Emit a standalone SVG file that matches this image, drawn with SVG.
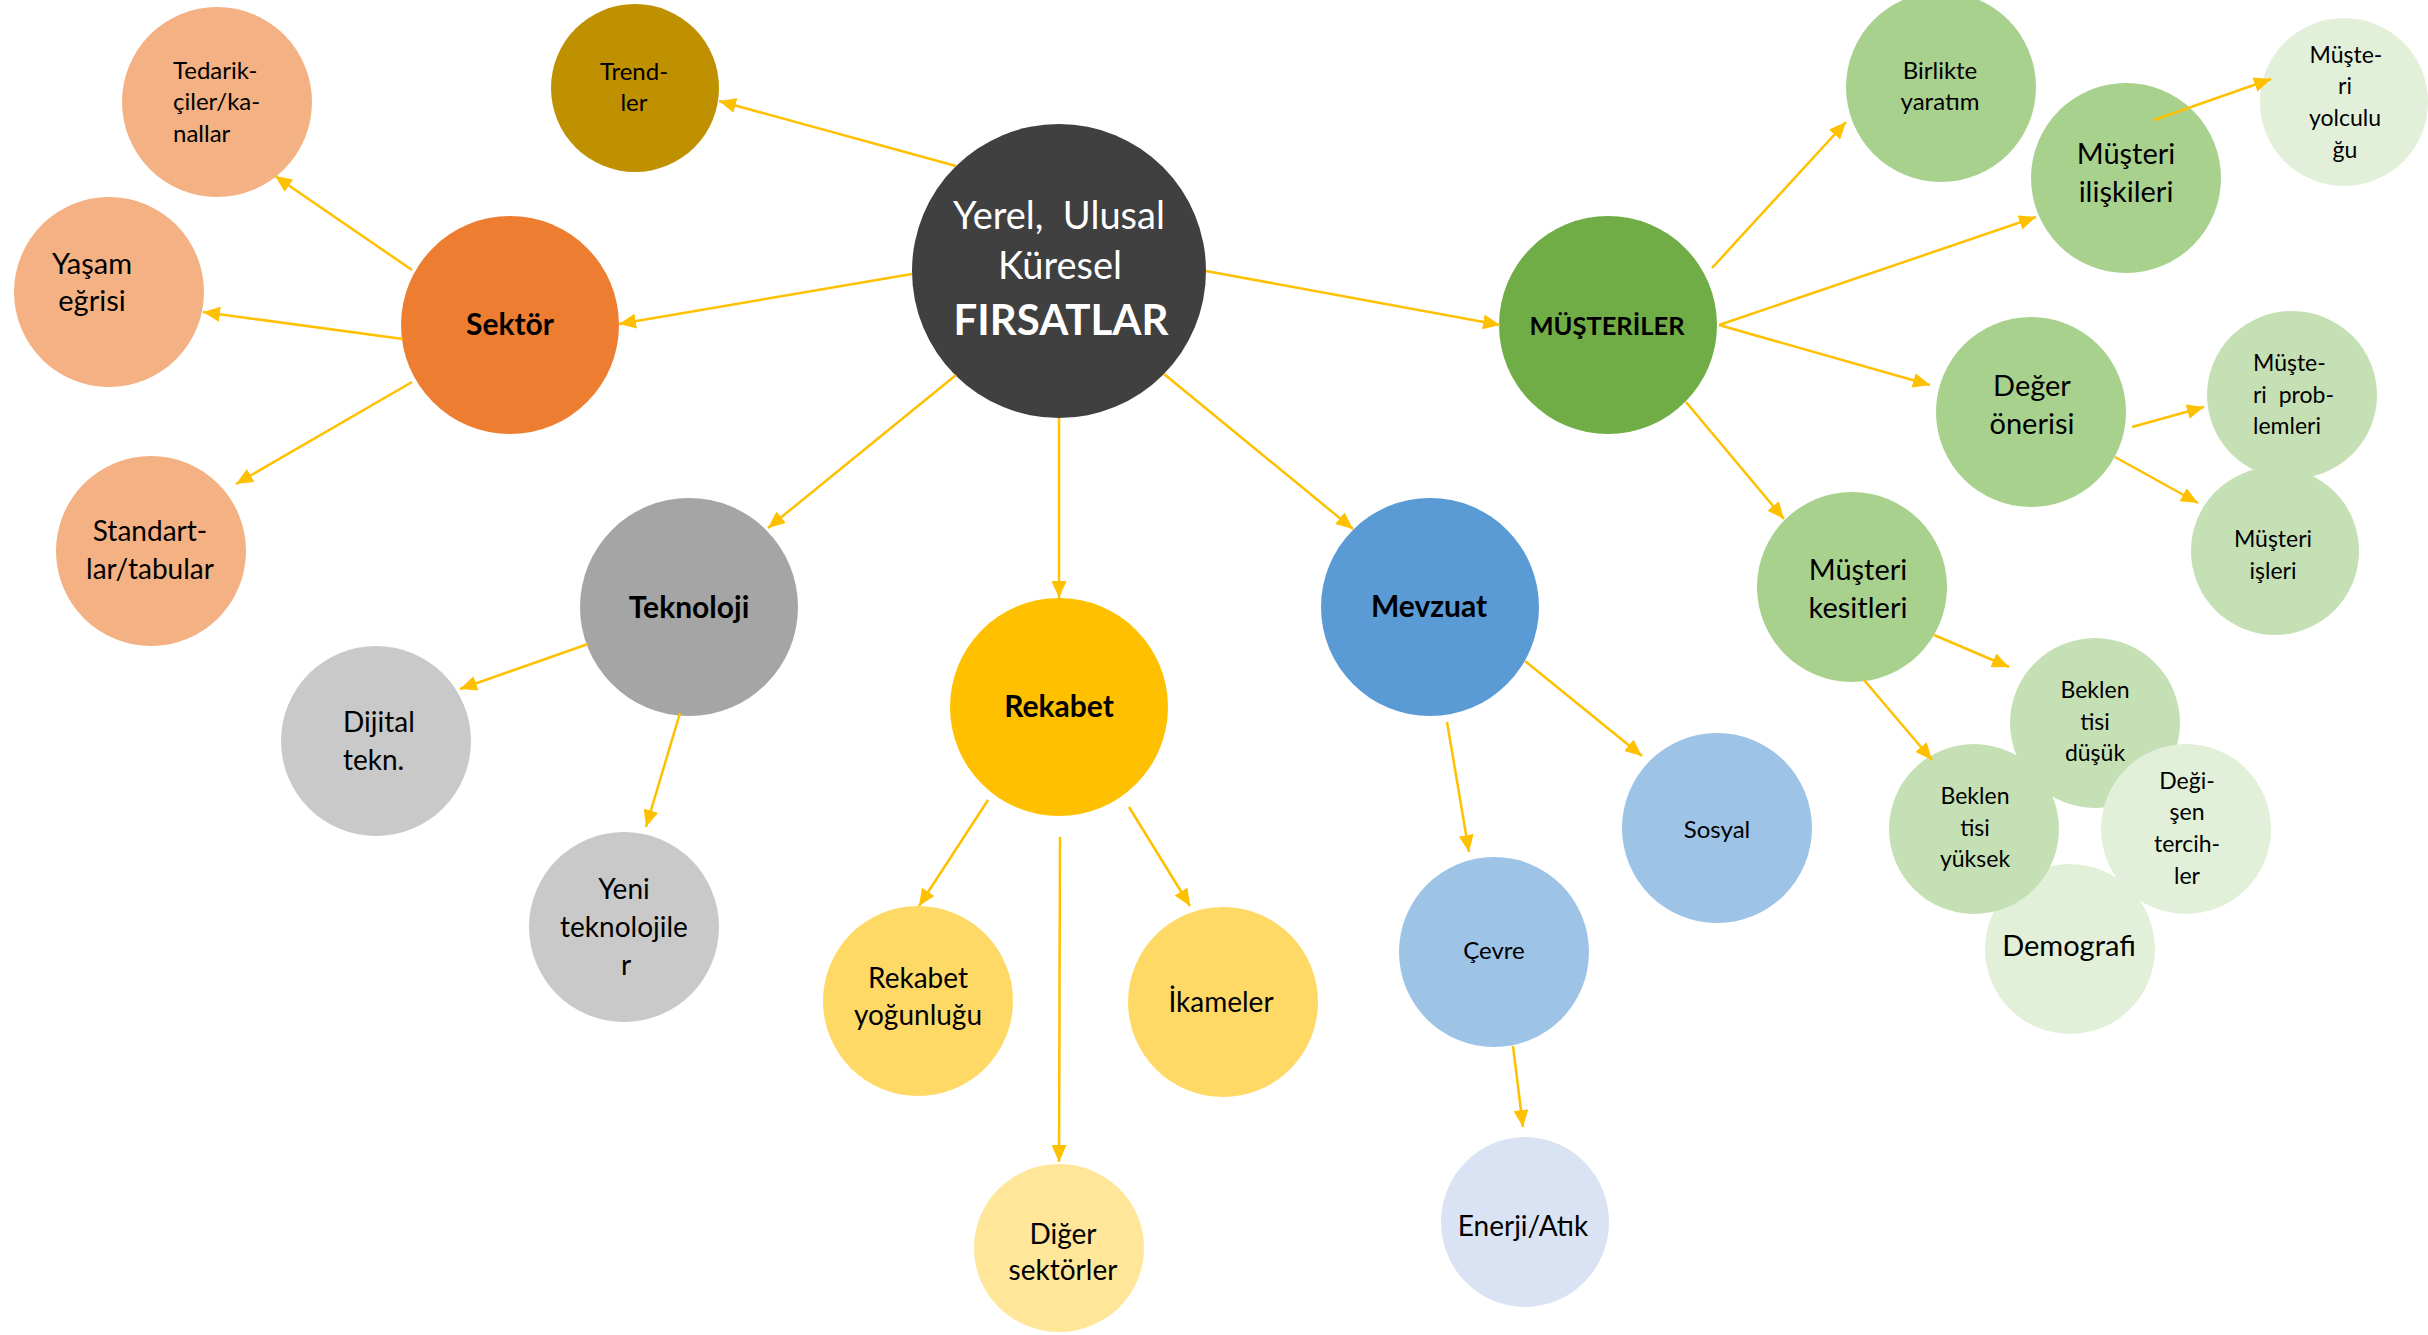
<svg xmlns="http://www.w3.org/2000/svg" width="2428" height="1335" viewBox="0 0 2428 1335">
<defs>
<marker id="ah" markerUnits="userSpaceOnUse" markerWidth="17" markerHeight="15" refX="17" refY="7.5" orient="auto">
<path d="M0,0 L17,7.5 L0,15 z" fill="#FFC000"/>
</marker>
</defs>
<style>
text{font-family:Lato,"Open Sans","Liberation Sans",sans-serif;fill:#000;}
.c{text-anchor:middle;}
.s{text-anchor:start;}
.f23{font-size:23px;}
.f24{font-size:24px;}
.f28{font-size:28px;}
.f29{font-size:29px;}
.b{font-weight:bold;font-size:30px;}
.w{fill:#fff;}
.ln{stroke:#FFC000;stroke-width:2.5;fill:none;marker-end:url(#ah);}
</style>
<rect width="2428" height="1335" fill="#fff"/>
<g id="nodes">
<g id="n-center"><ellipse cx="1059" cy="271" rx="147" ry="147" fill="#404040"/>
<text class="c w" x="1059" y="229" font-size="38" xml:space="preserve">Yerel,  Ulusal</text>
<text class="c w" x="1060" y="279" font-size="38">Küresel</text>
<text class="c w" x="1061" y="335" font-size="42" font-weight="bold">FIRSATLAR</text></g>
<g id="n-trendler"><circle cx="635" cy="88" r="84" fill="#BF9000"/>
<text class="c f24" x="634" y="80">Trend-</text><text class="c f24" x="634" y="111">ler</text></g>
<g id="n-tedarik"><circle cx="217" cy="102" r="95" fill="#F4B183"/>
<text class="s f24" x="173" y="79">Tedarik-</text><text class="s f24" x="173" y="110">çiler/ka-</text><text class="s f24" x="173" y="142">nallar</text></g>
<g id="n-yasam"><circle cx="109" cy="292" r="95" fill="#F4B183"/>
<text class="c f29" x="92" y="274">Yaşam</text><text class="c f29" x="92" y="311">eğrisi</text></g>
<g id="n-standart"><circle cx="151" cy="551" r="95" fill="#F4B183"/>
<text class="c f28" x="150" y="541">Standart-</text><text class="c f28" x="150" y="579">lar/tabular</text></g>
<g id="n-sektor"><circle cx="510" cy="325" r="109" fill="#ED7D31"/>
<text class="c b" x="510" y="335">Sektör</text></g>
<g id="n-teknoloji"><circle cx="689" cy="607" r="109" fill="#A5A5A5"/>
<text class="c b" x="689" y="618">Teknoloji</text></g>
<g id="n-dijital"><circle cx="376" cy="741" r="95" fill="#C9C9C9"/>
<text class="s f28" x="343" y="732">Dijital</text><text class="s f28" x="343" y="770">tekn.</text></g>
<g id="n-yeni"><circle cx="624" cy="927" r="95" fill="#C9C9C9"/>
<text class="c f28" x="624" y="899">Yeni</text><text class="c f28" x="624" y="937">teknolojile</text><text class="c f28" x="626" y="975">r</text></g>
<g id="n-rekabet"><circle cx="1059" cy="707" r="109" fill="#FFC000"/>
<text class="c b" x="1059" y="717">Rekabet</text></g>
<g id="n-yogunluk"><circle cx="918" cy="1001" r="95" fill="#FFD966"/>
<text class="c f28" x="918" y="988">Rekabet</text><text class="c f28" x="918" y="1025">yoğunluğu</text></g>
<g id="n-diger"><ellipse cx="1059" cy="1248" rx="85" ry="84" fill="#FFE699"/>
<text class="c f28" x="1063" y="1244">Diğer</text><text class="c f28" x="1063" y="1280">sektörler</text></g>
<g id="n-ikameler"><circle cx="1223" cy="1002" r="95" fill="#FFD966"/>
<text class="c f28" x="1221" y="1012">İkameler</text></g>
<g id="n-mevzuat"><circle cx="1430" cy="607" r="109" fill="#5B9BD5"/>
<text class="c b" x="1429" y="617">Mevzuat</text></g>
<g id="n-sosyal"><circle cx="1717" cy="828" r="95" fill="#9DC3E6"/>
<text class="c f24" x="1717" y="838">Sosyal</text></g>
<g id="n-cevre"><circle cx="1494" cy="952" r="95" fill="#9DC3E6"/>
<text class="c f24" x="1494" y="959">Çevre</text></g>
<g id="n-enerji"><ellipse cx="1525" cy="1222" rx="84" ry="85" fill="#DAE3F3"/>
<text class="c f28" x="1523" y="1236">Enerji/Atık</text></g>
<g id="n-musteriler"><circle cx="1608" cy="325" r="109" fill="#70AD47"/>
<text class="c" x="1607" y="335" font-size="25.5" font-weight="bold">MÜŞTERİLER</text></g>
<g id="n-birlikte"><circle cx="1941" cy="87" r="95" fill="#A9D18E"/>
<text class="c f24" x="1940" y="79">Birlikte</text><text class="c f24" x="1940" y="110">yaratım</text></g>
<g id="n-iliskileri"><circle cx="2126" cy="178" r="95" fill="#A9D18E"/>
<text class="c f29" x="2126" y="164">Müşteri</text><text class="c f29" x="2126" y="202">ilişkileri</text></g>
<g id="n-yolculugu"><ellipse cx="2344" cy="102" rx="84" ry="84" fill="#E2F0D9"/>
<text class="c f23" x="2346" y="63">Müşte-</text><text class="c f23" x="2345" y="94">ri</text><text class="c f23" x="2345" y="126">yolculu</text><text class="c f23" x="2345" y="158">ğu</text></g>
<g id="n-deger"><circle cx="2031" cy="412" r="95" fill="#A9D18E"/>
<text class="c f29" x="2032" y="396">Değer</text><text class="c f29" x="2032" y="434">önerisi</text></g>
<g id="n-problemleri"><ellipse cx="2292" cy="395" rx="85" ry="84" fill="#C5E0B4"/>
<text class="s f23" x="2253" y="371">Müşte-</text><text class="s f23" x="2253" y="403" xml:space="preserve">ri  prob-</text><text class="s f23" x="2253" y="434">lemleri</text></g>
<g id="n-isleri"><ellipse cx="2275" cy="551" rx="84" ry="84" fill="#C5E0B4"/>
<text class="c f23" x="2273" y="547">Müşteri</text><text class="c f23" x="2273" y="579">işleri</text></g>
<g id="n-kesitleri"><circle cx="1852" cy="587" r="95" fill="#A9D18E"/>
<text class="c f29" x="1858" y="580">Müşteri</text><text class="c f29" x="1858" y="618">kesitleri</text></g>
<g id="n-demografi"><ellipse cx="2070" cy="949" rx="85" ry="85" fill="#E2F0D9"/>
<text class="c f29" x="2069" y="956">Demografi</text></g>
<g id="n-dusuk"><ellipse cx="2095" cy="723" rx="85" ry="85" fill="#C5E0B4"/>
<text class="c f23" x="2095" y="698">Beklen</text><text class="c f23" x="2095" y="730">tisi</text><text class="c f23" x="2095" y="761">düşük</text></g>
<g id="n-yuksek"><ellipse cx="1974" cy="829" rx="85" ry="85" fill="#C5E0B4"/>
<text class="c f23" x="1975" y="804">Beklen</text><text class="c f23" x="1975" y="836">tisi</text><text class="c f23" x="1975" y="867">yüksek</text></g>
<g id="n-degisen"><ellipse cx="2186" cy="829" rx="85" ry="85" fill="#E2F0D9"/>
<text class="c f23" x="2187" y="789">Deği-</text><text class="c f23" x="2187" y="820">şen</text><text class="c f23" x="2187" y="852">tercih-</text><text class="c f23" x="2187" y="884">ler</text></g>
</g>
<g id="connectors">
<line class="ln" x1="956" y1="166" x2="719" y2="101"/>
<line class="ln" x1="912" y1="274" x2="619" y2="324"/>
<line class="ln" x1="956" y1="375" x2="768" y2="528"/>
<line class="ln" x1="1059" y1="418" x2="1059" y2="598"/>
<line class="ln" x1="1164" y1="374" x2="1353" y2="529"/>
<line class="ln" x1="1206" y1="271" x2="1500" y2="325"/>
<line class="ln" x1="412" y1="270" x2="275" y2="176"/>
<line class="ln" x1="403" y1="339" x2="203" y2="312"/>
<line class="ln" x1="412" y1="382" x2="236" y2="484"/>
<line class="ln" x1="588" y1="644" x2="460" y2="689"/>
<line class="ln" x1="680" y1="713" x2="646" y2="827"/>
<line class="ln" x1="988" y1="800" x2="919" y2="906"/>
<line class="ln" x1="1060" y1="837" x2="1059" y2="1162"/>
<line class="ln" x1="1129" y1="807" x2="1190" y2="906"/>
<line class="ln" x1="1525" y1="661" x2="1642" y2="756"/>
<line class="ln" x1="1447" y1="722" x2="1469" y2="852"/>
<line class="ln" x1="1513" y1="1046" x2="1523" y2="1127"/>
<line class="ln" x1="1712" y1="268" x2="1846" y2="122"/>
<line class="ln" x1="1719" y1="325" x2="2036" y2="217"/>
<line class="ln" x1="1719" y1="325" x2="1930" y2="385"/>
<line class="ln" x1="1686" y1="402" x2="1784" y2="519"/>
<line class="ln" x1="2154" y1="120" x2="2271" y2="79"/>
<line class="ln" x1="2132" y1="427" x2="2204" y2="407"/>
<line class="ln" x1="2115" y1="457" x2="2198" y2="503"/>
<line class="ln" x1="1934" y1="635" x2="2009" y2="667"/>
<line class="ln" x1="1864" y1="680" x2="1932" y2="760"/>
</g>
</svg>
